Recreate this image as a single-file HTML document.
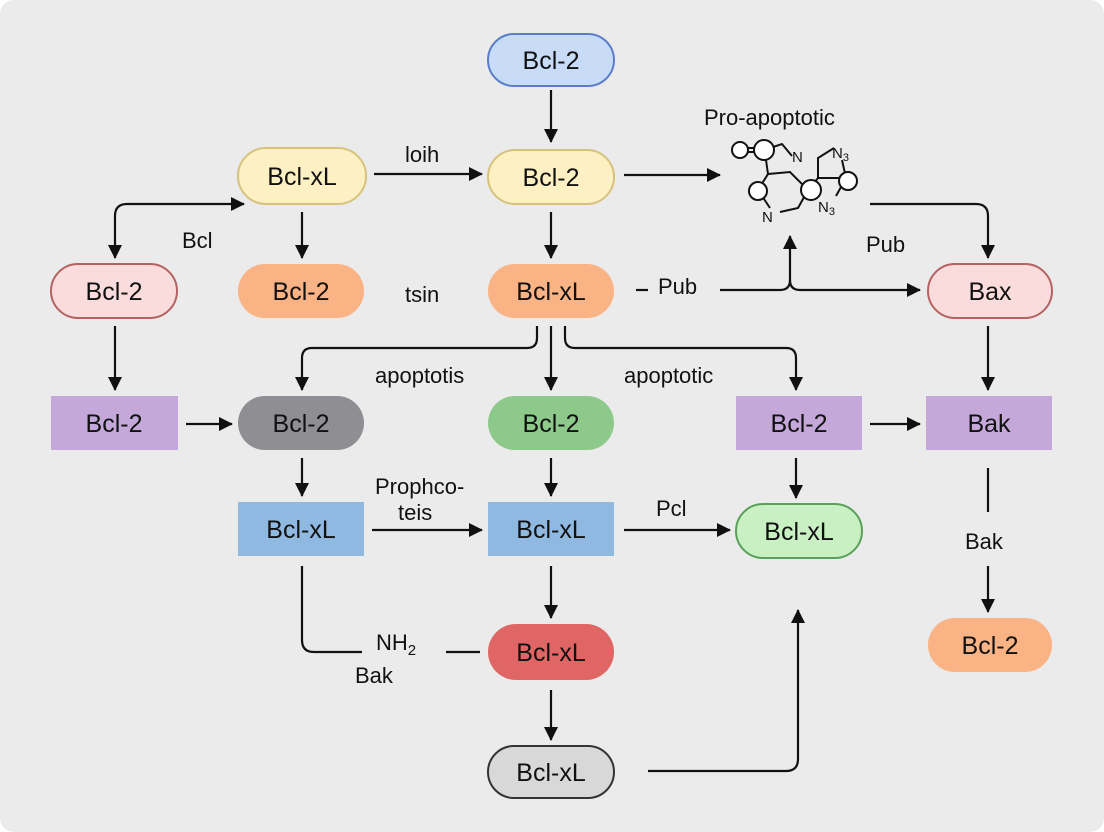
<!DOCTYPE html>
<html><head><meta charset="utf-8"><style>
html,body{margin:0;padding:0;background:#fff}
svg{display:block}
text{font-family:"Liberation Sans",sans-serif;fill:#111}
.n{font-size:25px;text-anchor:middle;dominant-baseline:central}
.l{font-size:22px}
</style></head><body>
<svg width="1104" height="832" viewBox="0 0 1104 832" xmlns="http://www.w3.org/2000/svg">
<defs>
<marker id="a" markerWidth="14" markerHeight="14" refX="13" refY="7" orient="auto" markerUnits="userSpaceOnUse" viewBox="0 0 14 14"><path d="M0,0 L14,7 L0,14 z" fill="#111"/></marker>
<marker id="s" markerWidth="14" markerHeight="14" refX="1" refY="7" orient="auto" markerUnits="userSpaceOnUse" viewBox="0 0 14 14"><path d="M14,0 L0,7 L14,14 z" fill="#111"/></marker>
</defs>
<rect x="0" y="0" width="1104" height="832" rx="14" fill="#ebebeb"/>
<g fill="none" stroke="#111" stroke-width="2.2">
<path d="M551 90 V142" marker-end="url(#a)"/>
<path d="M374 174 H482" marker-end="url(#a)"/>
<path d="M624 175 H720" marker-end="url(#a)"/>
<path d="M302 212 V258" marker-end="url(#a)"/>
<path d="M551 212 V258" marker-end="url(#a)"/>
<path d="M115 258 V216 Q115 204 127 204 H244" marker-start="url(#s)" marker-end="url(#a)"/>
<path d="M870 204 H976 Q988 204 988 216 V258" marker-end="url(#a)"/>
<path d="M720 290 H780 Q790 290 790 280 V236" marker-end="url(#a)"/>
<path d="M790 280 Q790 290 800 290 H920" marker-end="url(#a)"/>
<path d="M636 290 H648"/>
<path d="M115 326 V390" marker-end="url(#a)"/>
<path d="M988 326 V390" marker-end="url(#a)"/>
<path d="M537 326 V338 Q537 348 527 348 H312 Q302 348 302 358 V390" marker-end="url(#a)"/>
<path d="M551 326 V390" marker-end="url(#a)"/>
<path d="M565 326 V338 Q565 348 575 348 H786 Q796 348 796 358 V390" marker-end="url(#a)"/>
<path d="M186 424 H232" marker-end="url(#a)"/>
<path d="M870 424 H920" marker-end="url(#a)"/>
<path d="M302 458 V496" marker-end="url(#a)"/>
<path d="M551 458 V496" marker-end="url(#a)"/>
<path d="M796 458 V498" marker-end="url(#a)"/>
<path d="M372 530 H482" marker-end="url(#a)"/>
<path d="M624 530 H730" marker-end="url(#a)"/>
<path d="M551 566 V618" marker-end="url(#a)"/>
<path d="M551 690 V740" marker-end="url(#a)"/>
<path d="M302 566 V640 Q302 652 314 652 H362"/>
<path d="M446 652 H480"/>
<path d="M648 771 H786 Q798 771 798 759 V610" marker-end="url(#a)"/>
<path d="M988 468 V512"/>
<path d="M988 566 V612" marker-end="url(#a)"/>
</g>
<rect x="488" y="34" width="126" height="52" rx="26" fill="#c9dcf7" stroke="#5a7ec8" stroke-width="2"/><text class="n" x="551" y="61">Bcl-2</text>
<rect x="238" y="148" width="128" height="56" rx="28" fill="#fdf0c2" stroke="#d6c27c" stroke-width="2"/><text class="n" x="302" y="177">Bcl-xL</text>
<rect x="488" y="150" width="126" height="54" rx="27" fill="#fdf0c2" stroke="#d6c27c" stroke-width="2"/><text class="n" x="551" y="178">Bcl-2</text>
<rect x="51" y="264" width="126" height="54" rx="27" fill="#fadcdc" stroke="#b46262" stroke-width="2"/><text class="n" x="114" y="292">Bcl-2</text>
<rect x="238" y="264" width="126" height="54" rx="27" fill="#f9b384"/><text class="n" x="301" y="292">Bcl-2</text>
<rect x="488" y="264" width="126" height="54" rx="27" fill="#f9b384"/><text class="n" x="551" y="292">Bcl-xL</text>
<rect x="928" y="264" width="124" height="54" rx="27" fill="#fadcdc" stroke="#b46262" stroke-width="2"/><text class="n" x="990" y="292">Bax</text>
<rect x="51" y="396" width="127" height="54" fill="#c3a8d9"/><text class="n" x="114" y="424">Bcl-2</text>
<rect x="238" y="396" width="126" height="54" rx="27" fill="#8f8f93"/><text class="n" x="301" y="424">Bcl-2</text>
<rect x="488" y="396" width="126" height="54" rx="27" fill="#8dc98b"/><text class="n" x="551" y="424">Bcl-2</text>
<rect x="736" y="396" width="126" height="54" fill="#c3a8d9"/><text class="n" x="799" y="424">Bcl-2</text>
<rect x="926" y="396" width="126" height="54" fill="#c3a8d9"/><text class="n" x="989" y="424">Bak</text>
<rect x="238" y="502" width="126" height="54" fill="#90b9e1"/><text class="n" x="301" y="530">Bcl-xL</text>
<rect x="488" y="502" width="126" height="54" fill="#90b9e1"/><text class="n" x="551" y="530">Bcl-xL</text>
<rect x="736" y="504" width="126" height="54" rx="27" fill="#c9f0c3" stroke="#5aa05a" stroke-width="2"/><text class="n" x="799" y="532">Bcl-xL</text>
<rect x="488" y="624" width="126" height="56" rx="28" fill="#e06565"/><text class="n" x="551" y="653">Bcl-xL</text>
<rect x="488" y="746" width="126" height="52" rx="26" fill="#d8d8d8" stroke="#333" stroke-width="2"/><text class="n" x="551" y="773">Bcl-xL</text>
<rect x="928" y="618" width="124" height="54" rx="27" fill="#f9b384"/><text class="n" x="990" y="646">Bcl-2</text>
<text class="l" x="405" y="162">loih</text>
<text class="l" x="182" y="248">Bcl</text>
<text class="l" x="405" y="302">tsin</text>
<text class="l" x="658" y="294">Pub</text>
<text class="l" x="866" y="252">Pub</text>
<text class="l" x="704" y="125">Pro-apoptotic</text>
<text class="l" x="375" y="383">apoptotis</text>
<text class="l" x="624" y="383">apoptotic</text>
<text class="l" x="375" y="494">Prophco-</text>
<text class="l" x="398" y="520">teis</text>
<text class="l" x="656" y="516">Pcl</text>
<text class="l" x="965" y="549">Bak</text>
<text class="l" x="376" y="650">NH<tspan font-size="15" dy="5">2</tspan></text>
<text class="l" x="355" y="683">Bak</text>
<g fill="none" stroke="#111" stroke-width="2">
<path d="M748 152 H762 M748 148 H762"/>
<path d="M770 148 L782 144 L792 156 M766 160 L768 174 L758 190 M768 174 L790 172 L808 190 L798 208 L780 212 M758 190 L770 208 M808 190 L818 178 L818 158 L834 148 M818 178 L846 178 M846 178 L836 196 M846 178 L842 160"/>
</g>
<g fill="#fff" stroke="#111" stroke-width="2">
<circle cx="740" cy="150" r="8"/><circle cx="764" cy="150" r="10"/><circle cx="758" cy="191" r="9"/><circle cx="811" cy="190" r="10"/><circle cx="848" cy="181" r="9"/>
</g>
<text x="792" y="162" font-size="15">N</text>
<text x="832" y="158" font-size="15">N<tspan font-size="11" dy="3">3</tspan></text>
<text x="818" y="212" font-size="15">N<tspan font-size="11" dy="3">3</tspan></text>
<text x="762" y="222" font-size="15">N</text>
</svg>
</body></html>
